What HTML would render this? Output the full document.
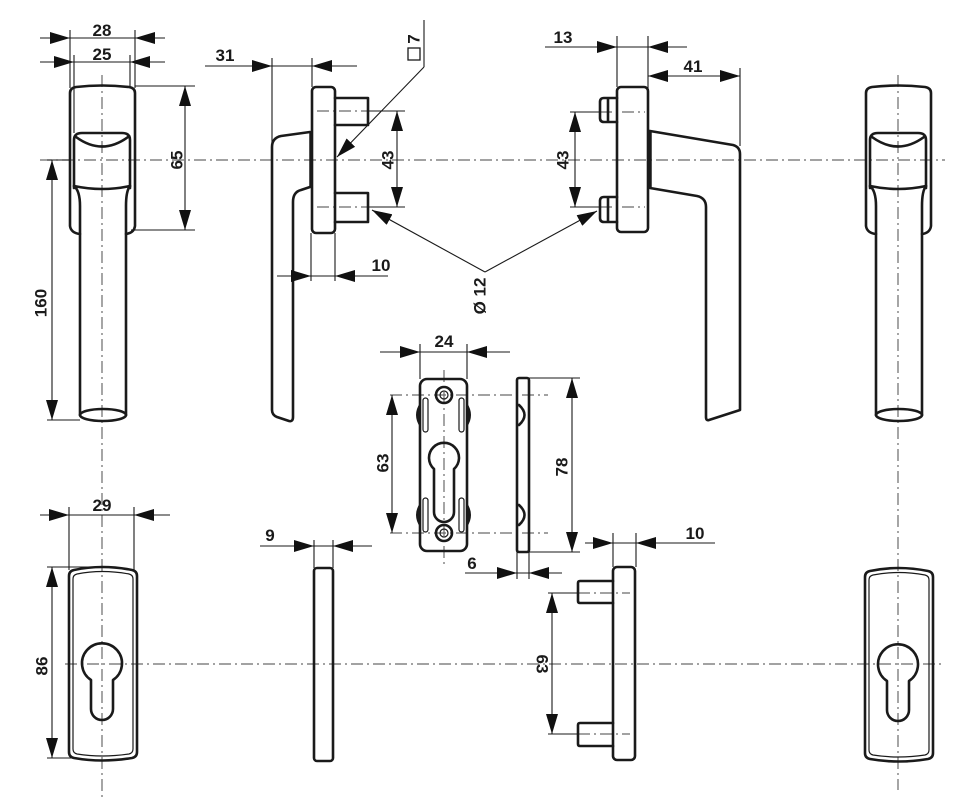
<!DOCTYPE html>
<html><head><meta charset="utf-8"><style>
html,body{margin:0;padding:0;background:#fff;}
svg{display:block;}
text{font-family:"Liberation Sans",sans-serif;font-weight:bold;font-size:17px;fill:#1a1a1a;}
.o{fill:none;stroke:#1a1a1a;stroke-width:2.6;stroke-linejoin:round;stroke-linecap:round;}
.t{fill:none;stroke:#1a1a1a;stroke-width:1.1;}
.d{fill:none;stroke:#1a1a1a;stroke-width:1.1;marker-end:url(#a);}
.c{fill:none;stroke:#6a6a6a;stroke-width:1.2;stroke-dasharray:12 4 2 4;}
.in{fill:none;stroke:#1a1a1a;stroke-width:1.2;}
</style></head><body>
<svg width="956" height="800" viewBox="0 0 956 800" xmlns="http://www.w3.org/2000/svg">
<defs>
<marker id="a" viewBox="0 0 20 12" refX="20" refY="6" markerWidth="20" markerHeight="12" markerUnits="userSpaceOnUse" orient="auto"><path d="M0,0L20,6L0,12z" fill="#111"/></marker>
</defs>

<!-- center lines -->
<path class="c" d="M40,160H945"/>
<path class="c" d="M65,664H945"/>
<path class="c" d="M102,75V800"/>
<path class="c" d="M898,75V790"/>
<path class="c" d="M444,370V565"/>
<path class="c" d="M390,395H548M390,533H548"/>
<path class="c" d="M317,111H368M317,207H368"/>
<path class="c" d="M600,112H645M600,207H645"/>
<path class="c" d="M578,593H630M578,734H630"/>

<!-- ===== Left front handle ===== -->
<g id="fh">
<path class="o" d="M80,234 Q71,233 70,226 V93 Q70,88 76,87 Q102,84 129,87 Q135,88 135,93 V226 Q134,233 126,234"/>
<path class="o" d="M74,188 V140 Q74,133 82,133 H122 Q130,133 130,140 V188"/>
<path class="o" d="M76,137 Q102,156 128,137"/>
<path class="o" d="M74,186 Q102,192 130,186"/>
<path class="o" d="M74,186 Q80,191 80,206 V415 M130,186 Q126,191 126,206 V415"/>
<ellipse class="o" cx="103" cy="415" rx="23" ry="6"/>
</g>
<!-- ===== Far right front handle ===== -->
<g transform="translate(796,0)">
<path class="o" d="M80,234 Q71,233 70,226 V93 Q70,88 76,87 Q102,84 129,87 Q135,88 135,93 V226 Q134,233 126,234"/>
<path class="o" d="M74,188 V140 Q74,133 82,133 H122 Q130,133 130,140 V188"/>
<path class="o" d="M76,137 Q102,156 128,137"/>
<path class="o" d="M74,186 Q102,192 130,186"/>
<path class="o" d="M74,186 Q80,191 80,206 V415 M130,186 Q126,191 126,206 V415"/>
<ellipse class="o" cx="103" cy="415" rx="23" ry="6"/>
</g>

<!-- ===== Left side handle ===== -->
<rect class="o" x="312" y="87" width="23" height="146" rx="4"/>
<path class="o" d="M335,98 H368 V125 H335 M335,193 H368 V222 H335"/>
<path class="o" d="M310,132 L281,136 Q272,138 272,147 V410 Q272,415 277,417 L289,421 Q293,422 293,417 V202 Q293,192 301,190 L310,187"/>
<path d="M311,132V187" stroke="#1a1a1a" stroke-width="3.5"/>

<!-- ===== Right side handle ===== -->
<rect class="o" x="617" y="87" width="31" height="145" rx="4"/>
<path class="o" d="M617,98 H604 Q600,98 600,102 V118 Q600,122 604,122 H617 M608,98V122"/>
<path class="o" d="M617,197 H604 Q600,197 600,201 V218 Q600,222 604,222 H617 M608,197V222"/>
<path class="o" d="M650,131 L733,145 Q740,147 740,154 V410 L709,420 Q706,421 706,417 V207 Q706,198 697,196 L650,188"/>
<path d="M650,131V188" stroke="#1a1a1a" stroke-width="3.5"/>

<!-- ===== Middle escutcheon ===== -->
<rect class="o" x="420" y="379" width="47" height="172" rx="7"/>
<circle class="o" cx="444" cy="395" r="8"/><circle class="in" cx="444" cy="395" r="4"/>
<circle class="o" cx="444" cy="533" r="8"/><circle class="in" cx="444" cy="533" r="4"/>
<rect class="in" x="423" y="398" width="5" height="34" rx="2.5"/>
<rect class="in" x="459" y="398" width="5" height="34" rx="2.5"/>
<rect class="in" x="423" y="498" width="5" height="34" rx="2.5"/>
<rect class="in" x="459" y="498" width="5" height="34" rx="2.5"/>
<path d="M420,403 Q412,415 420,427Z M467,403 Q475,415 467,427Z M420,503 Q412,515 420,527Z M467,503 Q475,515 467,527Z" fill="#1a1a1a"/>
<path class="o" d="M434,469 A15,15 0 1 1 454,469 V512 A10,10 0 0 1 434,512 Z"/>
<rect class="o" x="517" y="378" width="12" height="174" rx="2"/>
<path class="o" d="M519,405 Q530,415 519,425 M519,505 Q530,515 519,525"/>

<!-- ===== Bottom left plate ===== -->
<g id="bp">
<path class="o" d="M69,576 Q69,571 74,570 Q102,564 132,570 Q137,571 137,576 V752 Q137,757 132,758 Q102,763 74,758 Q69,757 69,752 Z"/>
<path class="in" d="M73,579 Q73,575 77,574 Q102,569 129,574 Q133,575 133,579 V749 Q133,753 129,754 Q102,758 77,754 Q73,753 73,749 Z"/>
<path class="o" d="M91,680 A20,20 0 1 1 113,680 V709 A11,11 0 0 1 91,709 Z"/>
</g>
<g transform="translate(796,1)">
<path class="o" d="M69,576 Q69,571 74,570 Q102,564 132,570 Q137,571 137,576 V752 Q137,757 132,758 Q102,763 74,758 Q69,757 69,752 Z"/>
<path class="in" d="M73,579 Q73,575 77,574 Q102,569 129,574 Q133,575 133,579 V749 Q133,753 129,754 Q102,758 77,754 Q73,753 73,749 Z"/>
<path class="o" d="M91,680 A20,20 0 1 1 113,680 V709 A11,11 0 0 1 91,709 Z"/>
</g>

<!-- ===== Bottom middle side plate ===== -->
<rect class="o" x="314" y="568" width="19" height="193" rx="3"/>

<!-- ===== Bottom right side view ===== -->
<rect class="o" x="613" y="567" width="22" height="193" rx="4"/>
<path class="o" d="M613,581 H580 Q578,581 578,583 V601 Q578,603 580,603 H613 M613,723 H580 Q578,723 578,725 V744 Q578,746 580,746 H613"/>

<!-- ===== Dimensions ===== -->
<!-- 28 -->
<path class="t" d="M70,30V88 M135,30V88 M70,38H135"/>
<path class="d" d="M40,38H70"/><path class="d" d="M165,38H135"/>
<text x="102" y="36" text-anchor="middle">28</text>
<!-- 25 -->
<path class="t" d="M74,55V133 M130,55V88 M74,62H130"/>
<path class="d" d="M40,62H74"/><path class="d" d="M165,62H130"/>
<text x="102" y="60" text-anchor="middle">25</text>
<!-- 65 -->
<path class="t" d="M135,86H195 M131,230H195"/>
<path class="d" d="M185,158V86"/><path class="d" d="M185,158V230"/>
<text transform="translate(177,160) rotate(-90)" text-anchor="middle" dominant-baseline="central">65</text>
<!-- 160 -->
<path class="t" d="M47,160H70 M47,420H80"/>
<path class="d" d="M52,290V160"/><path class="d" d="M52,290V420"/>
<text transform="translate(41,303) rotate(-90)" text-anchor="middle" dominant-baseline="central">160</text>
<!-- 31 -->
<path class="t" d="M272,58V143 M312,58V87 M272,66H312"/>
<path class="d" d="M205,66H272"/><path class="d" d="M357,66H312"/>
<text x="225" y="61" text-anchor="middle">31</text>
<!-- 43 left -->
<path class="t" d="M368,111H405 M368,207H405"/>
<path class="d" d="M397,159V111"/><path class="d" d="M397,159V207"/>
<text transform="translate(388,160) rotate(-90)" text-anchor="middle" dominant-baseline="central">43</text>
<!-- 10 left -->
<path class="t" d="M311,233V281 M335,233V281 M311,276H335"/>
<path class="d" d="M277,276H311"/><path class="d" d="M388,276H335"/>
<text x="381" y="271" text-anchor="middle">10</text>
<!-- square 7 -->
<path class="t" d="M424,20V67"/>
<path class="d" d="M424,67L337,157"/>
<rect x="408" y="48" width="12" height="12" fill="none" stroke="#1a1a1a" stroke-width="1.3"/>
<text transform="translate(414,39) rotate(-90)" text-anchor="middle" dominant-baseline="central">7</text>
<!-- Ø12 -->
<path class="d" d="M485,272L372,210"/><path class="d" d="M485,272L597,211"/>
<text transform="translate(480,296) rotate(-90)" text-anchor="middle" dominant-baseline="central">Ø 12</text>
<!-- 13 -->
<path class="t" d="M617,36V87 M648,36V97 M617,47H648"/>
<path class="d" d="M545,47H617"/><path class="d" d="M687,47H648"/>
<text x="563" y="43" text-anchor="middle">13</text>
<!-- 41 -->
<path class="t" d="M740,68V146"/>
<path class="d" d="M694,76H648"/><path class="d" d="M694,76H740"/>
<text x="693" y="72" text-anchor="middle">41</text>
<!-- 43 right -->
<path class="t" d="M570,112H600 M570,207H600"/>
<path class="d" d="M575,159V112"/><path class="d" d="M575,159V207"/>
<text transform="translate(563,160) rotate(-90)" text-anchor="middle" dominant-baseline="central">43</text>
<!-- 24 -->
<path class="t" d="M420,344V379 M467,344V379 M420,352H467"/>
<path class="d" d="M380,352H420"/><path class="d" d="M510,352H467"/>
<text x="444" y="347" text-anchor="middle">24</text>
<!-- 63 middle -->
<path class="d" d="M392,464V395"/><path class="d" d="M392,464V533"/>
<text transform="translate(383,463) rotate(-90)" text-anchor="middle" dominant-baseline="central">63</text>
<!-- 78 -->
<path class="t" d="M529,378H580 M529,552H580"/>
<path class="d" d="M572,465V378"/><path class="d" d="M572,465V552"/>
<text transform="translate(562,467) rotate(-90)" text-anchor="middle" dominant-baseline="central">78</text>
<!-- 6 -->
<path class="t" d="M517,552V579 M529,552V579 M517,573H529"/>
<path class="d" d="M465,573H517"/><path class="d" d="M562,573H529"/>
<text x="472" y="569" text-anchor="middle">6</text>
<!-- 29 -->
<path class="t" d="M69,507V570 M134,507V570 M69,515H134"/>
<path class="d" d="M40,515H69"/><path class="d" d="M170,515H134"/>
<text x="102" y="511" text-anchor="middle">29</text>
<!-- 86 -->
<path class="t" d="M47,567H100 M47,758H75"/>
<path class="d" d="M52,662V567"/><path class="d" d="M52,662V758"/>
<text transform="translate(42,666) rotate(-90)" text-anchor="middle" dominant-baseline="central">86</text>
<!-- 9 -->
<path class="t" d="M314,540V568 M333,540V568 M314,546H333"/>
<path class="d" d="M260,546H314"/><path class="d" d="M372,546H333"/>
<text x="270" y="541" text-anchor="middle">9</text>
<!-- 10 bottom -->
<path class="t" d="M613,533V567 M636,533V567 M613,543H636"/>
<path class="d" d="M585,543H613"/><path class="d" d="M715,543H636"/>
<text x="695" y="539" text-anchor="middle">10</text>
<!-- 63 bottom right -->
<path class="t" d="M548,593H578 M548,734H578"/>
<path class="d" d="M552,663V593"/><path class="d" d="M552,663V734"/>
<text transform="translate(542,664) rotate(90)" text-anchor="middle" dominant-baseline="central">63</text>
</svg>
</body></html>
